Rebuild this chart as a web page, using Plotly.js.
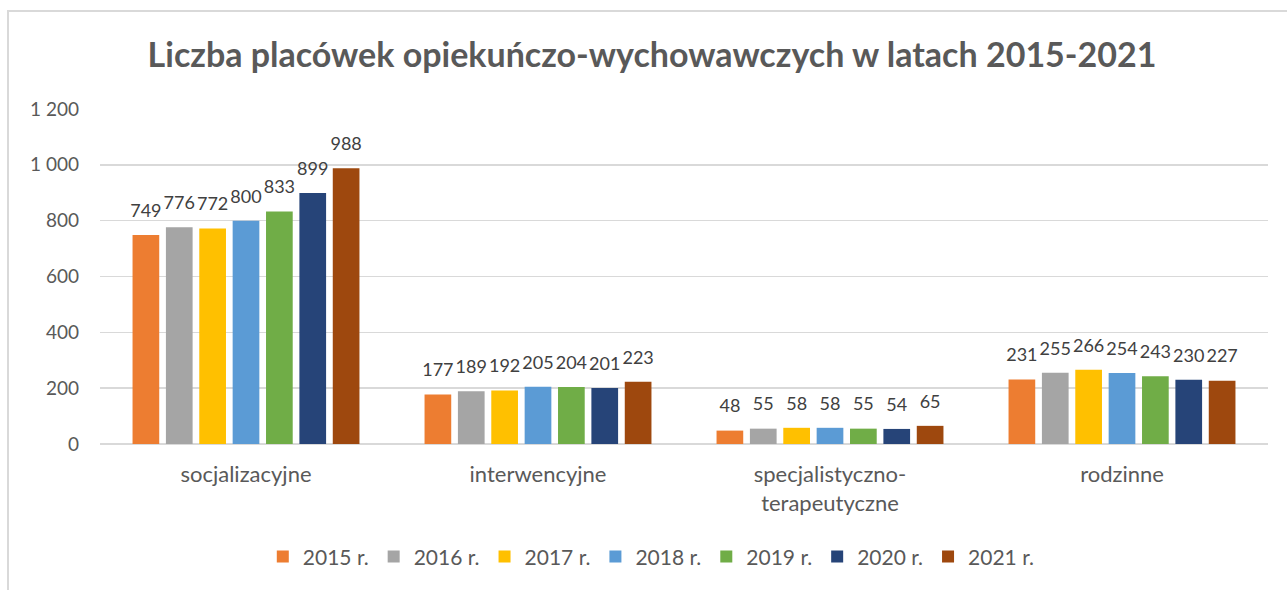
<!DOCTYPE html>
<html>
<head>
<meta charset="utf-8">
<script src="https://cdn.plot.ly/plotly-3.0.1.min.js"></script>
<style>
html,body{margin:0;padding:0;background:#fff;}
#frame{position:absolute;left:7px;top:10px;width:1400px;height:700px;border-left:2px solid #d9d9d9;border-top:2px solid #d9d9d9;box-sizing:border-box;}
#chart{position:absolute;left:0;top:0;width:1287px;height:590px;}
</style>
</head>
<body>
<div id="frame"></div>
<div id="chart"></div>
<script>
const categories = ["socjalizacyjne", "interwencyjne", "specjalistyczno-<br>terapeutyczne", "rodzinne"];
const years = ["2015 r.", "2016 r.", "2017 r.", "2018 r.", "2019 r.", "2020 r.", "2021 r."];
const v2015 = [749, 177, 48, 231];
const v2016 = [776, 189, 55, 255];
const v2017 = [772, 192, 58, 266];
const v2018 = [800, 205, 58, 254];
const v2019 = [833, 204, 55, 243];
const v2020 = [899, 201, 54, 230];
const v2021 = [988, 223, 65, 227];
const colors = ["#ED7D31", "#A5A5A5", "#FFC000", "#5B9BD5", "#70AD47", "#264478", "#9E480E"];
const yTickVals = [0, 200, 400, 600, 800, 1000, 1200];
const yTickText = ["0", "200", "400", "600", "800", "1 000", "1 200"];
const series = [v2015, v2016, v2017, v2018, v2019, v2020, v2021];

const FONT = "Lato, 'Open Sans', sans-serif";
const LABEL_GAP = 40; // spacing (axis units) between bar top and its value label

const traces = [];
series.forEach((vals, i) => {
  traces.push({
    type: "bar",
    name: years[i],
    x: categories,
    y: vals,
    offsetgroup: String(i),
    marker: {color: colors[i]},
    textposition: "none",
    hoverinfo: "none"
  });
});
series.forEach((vals, i) => {
  traces.push({
    type: "bar",
    name: years[i] + " etykiety",
    x: categories,
    base: vals,
    y: vals.map(() => LABEL_GAP),
    offsetgroup: String(i),
    marker: {color: "rgba(0,0,0,0)"},
    text: vals.map(String),
    textposition: "outside",
    constraintext: "none",
    textfont: {family: FONT, size: 18, color: "#404040"},
    cliponaxis: false,
    showlegend: false,
    hoverinfo: "none"
  });
});

const layout = {
  width: 1287, height: 590,
  paper_bgcolor: "rgba(0,0,0,0)",
  plot_bgcolor: "rgba(0,0,0,0)",
  margin: {l: 100, r: 19, t: 109, b: 146},
  title: {
    text: "<b>Liczba placówek opiekuńczo-wychowawczych w latach 2015-2021</b>",
    font: {family: FONT, size: 34, color: "#595959"},
    xref: "container", yref: "container",
    x: 0.5066, xanchor: "center", y: 0.907, yanchor: "middle"
  },
  barmode: "group",
  bargap: 0.2,
  bargroupgap: 0.2,
  showlegend: true,
  legend: {
    orientation: "h",
    x: 0.472, xanchor: "center",
    y: -0.337, yanchor: "middle",
    font: {family: FONT, size: 21, color: "#595959"},
    itemwidth: 30,
    traceorder: "normal"
  },
  xaxis: {
    type: "category",
    showgrid: false,
    showline: false,
    ticks: "outside", ticklen: 11, tickcolor: "rgba(0,0,0,0)",
    tickfont: {family: FONT, size: 22, color: "#595959"},
    fixedrange: true
  },
  yaxis: {
    range: [0, 1200],
    tickvals: yTickVals,
    ticktext: yTickText,
    showgrid: true,
    gridcolor: "#d9d9d9",
    gridwidth: 1.5,
    zeroline: true,
    zerolinecolor: "#d9d9d9",
    zerolinewidth: 1.5,
    ticklabelstandoff: 20,
    tickfont: {family: FONT, size: 19, color: "#595959"},
    fixedrange: true
  }
};

Plotly.newPlot("chart", traces, layout, {displayModeBar: false, staticPlot: true});
</script>
</body>
</html>
